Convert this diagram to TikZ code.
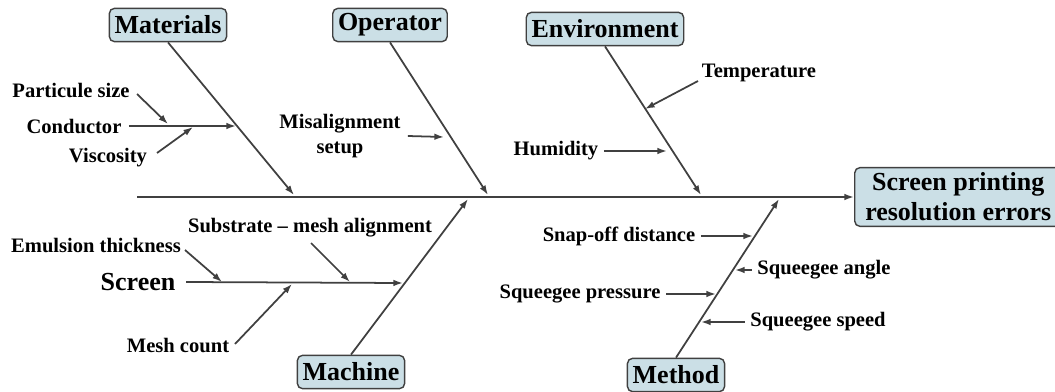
\documentclass[tikz,border=0pt]{standalone}
\usepackage{fontspec}
\setmainfont{Liberation Serif}
\usetikzlibrary{arrows.meta,positioning}
\definecolor{boxfill}{RGB}{203,223,230}
\definecolor{linegray}{RGB}{64,64,64}

\begin{document}
\begin{tikzpicture}[
    x=0.02cm,y=-0.02cm,
    cat/.style={draw=linegray,line width=0.8pt,rounded corners=3pt,fill=boxfill,font=\fontsize{14.8}{17}\selectfont\bfseries,inner sep=3pt,minimum height=19pt},
    cause/.style={font=\fontsize{11.7}{14}\selectfont\bfseries,inner sep=1pt,align=center},
    bone/.style={draw=linegray,line width=1pt,->},
    >={Latex[length=5.5pt,width=3.8pt]}
]
\useasboundingbox (0,0) rectangle (1055,392);

% effect and spine
\node[cat,align=center,anchor=west,inner xsep=6pt] (effect) at (854,197) {Screen printing\\resolution errors};
\coordinate (tail) at (137,197);
\draw[bone] (tail) -- (effect.west);

% categories
\node[cat] (materials) at (168,25) {Materials};
\node[cat] (operator) at (390,25) {Operator};
\node[cat] (environment) at (605,29) {Environment};
\node[cat] (machine) at (351,372) {Machine};
\node[cat] (method) at (676,375) {Method};

\coordinate (mat-end) at (294,195);
\coordinate (op-end) at (488,195);
\coordinate (env-end) at (701,195);
\coordinate (mach-end) at (468,199);
\coordinate (meth-end) at (779,199);

\draw[bone] (materials.south) -- (mat-end);
\draw[bone] (operator.south) -- (op-end);
\draw[bone] (environment.south) -- (env-end);
\draw[bone] (machine.north) -- (mach-end);
\draw[bone] (method.north) -- (meth-end);

% materials causes
\node[cause] (partsize) at (71,90) {Particule size};
\node[cause] (conductor) at (74,126) {Conductor};
\node[cause] (viscosity) at (108,158) {Viscosity};
\coordinate (t-part) at (137,94);
\coordinate (t-visc) at (157,153);
\coordinate (c-cond) at (236,126);
\coordinate (c-part) at (168,124);
\coordinate (c-visc) at (193,127);
\draw[bone] ([xshift=3pt]conductor.east) -- (c-cond);
\draw[bone] (t-part) -- (c-part);
\draw[bone] (t-visc) -- (c-visc);

% operator causes
\node[cause] (misalign) at (340,136) {Misalignment\\setup};
\coordinate (c-mis) at (444,137);
\draw[bone] ([xshift=3pt]misalign.east) -- (c-mis);

% environment causes
\node[cause] (temperature) at (759,73) {Temperature};
\node[cause] (humidity) at (556,151) {Humidity};
\coordinate (t-temp) at (698,81);
\coordinate (c-temp) at (645,109);
\coordinate (c-hum) at (667,151);
\draw[bone] (t-temp) -- (c-temp);
\draw[bone] ([xshift=2pt]humidity.east) -- (c-hum);

% machine causes
\node[font=\fontsize{14.8}{17}\selectfont\bfseries,inner sep=1pt] (screen) at (138,282) {Screen};
\node[cause] (emulsion) at (96,245) {Emulsion thickness};
\node[cause] (substrate) at (310,228) {Substrate -- mesh alignment};
\node[cause] (meshcount) at (178,345) {Mesh count};
\coordinate (c-screen) at (403,283);
\coordinate (t-emul) at (185,250);
\coordinate (c-emul) at (222,282);
\coordinate (t-sub) at (311,243);
\coordinate (c-sub) at (350,282);
\coordinate (t-mesh) at (235,344);
\coordinate (c-mesh) at (292,284);
\draw[bone] ([xshift=5pt]screen.east) -- (c-screen);
\draw[bone] (t-emul) -- (c-emul);
\draw[bone] (t-sub) -- (c-sub);
\draw[bone] (t-mesh) -- (c-mesh);

% method causes
\node[cause] (snapoff) at (619,236) {Snap-off distance};
\node[cause] (sqangle) at (824,270) {Squeegee angle};
\node[cause] (sqpressure) at (580,294) {Squeegee pressure};
\node[cause] (sqspeed) at (818,322) {Squeegee speed};
\coordinate (c-snap) at (753,236);
\coordinate (c-angle) at (735,270);
\coordinate (c-press) at (716,294);
\coordinate (c-speed) at (701,322);
\draw[bone] ([xshift=2pt]snapoff.east) -- (c-snap);
\draw[bone] ([xshift=-2pt]sqangle.west) -- (c-angle);
\draw[bone] ([xshift=2pt]sqpressure.east) -- (c-press);
\draw[bone] ([xshift=-2pt]sqspeed.west) -- (c-speed);
\end{tikzpicture}
\end{document}
